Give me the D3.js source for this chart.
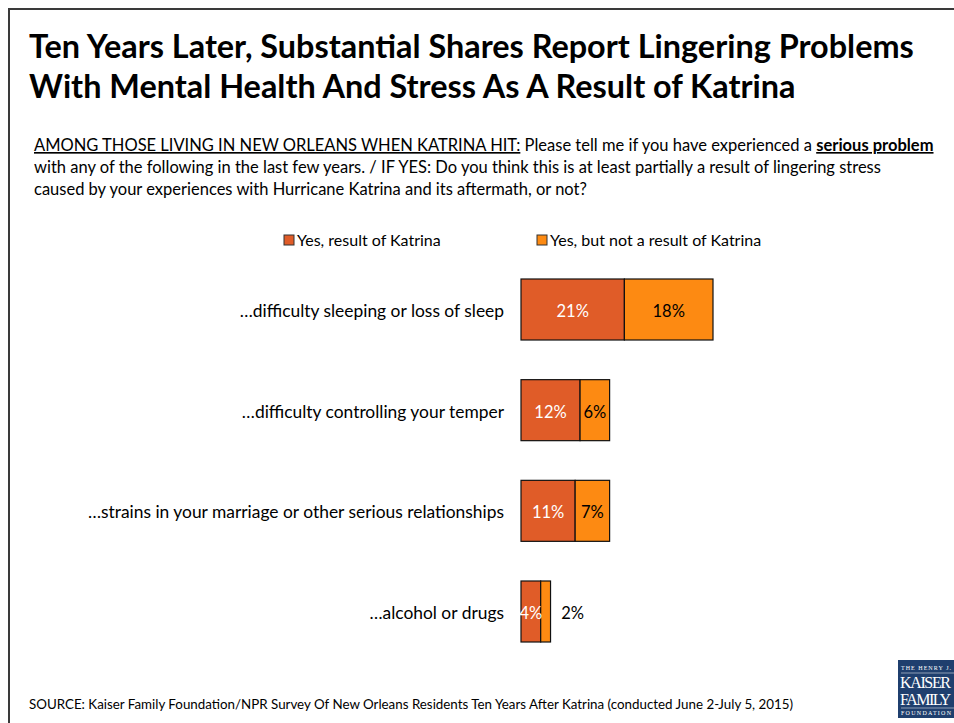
<!DOCTYPE html>
<html>
<head>
<meta charset="utf-8">
<script src="https://cdn.jsdelivr.net/npm/d3@7"></script>
<style>
  html, body { margin: 0; padding: 0; background: #fff; }
  svg { display: block; }
</style>
</head>
<body>
<div id="chart"></div>
<script>
const categories = [
  "…difficulty sleeping or loss of sleep",
  "…difficulty controlling your temper",
  "…strains in your marriage or other serious relationships",
  "…alcohol or drugs"
];
const resultOfKatrina = [21, 12, 11, 4];
const notResultOfKatrina = [18, 6, 7, 2];
const seriesNames = ["Yes, result of Katrina", "Yes, but not a result of Katrina"];
const seriesColors = ["#E05C28", "#FD8A12"];

const width = 954, height = 723;
const font = "Lato, 'Open Sans', sans-serif";

const svg = d3.select("#chart").append("svg")
  .attr("width", width)
  .attr("height", height)
  .attr("font-family", font);

// frame
svg.append("path")
  .attr("d", `M9,${height} V9 H${width}`)
  .attr("fill", "none")
  .attr("stroke", "#3a3a3a")
  .attr("stroke-width", 2);

// title
const title = svg.append("text")
  .attr("font-size", 32.4)
  .attr("font-weight", "bold")
  .attr("fill", "#000");
title.append("tspan").attr("x", 29).attr("y", 58)
  .text("Ten Years Later, Substantial Shares Report Lingering Problems");
title.append("tspan").attr("x", 29).attr("y", 98)
  .text("With Mental Health And Stress As A Result of Katrina");

// question text
const q = svg.append("text").attr("font-size", 16.5).attr("fill", "#000");
const l1 = q.append("tspan").attr("x", 34).attr("y", 151);
l1.append("tspan").attr("text-decoration", "underline")
  .text("AMONG THOSE LIVING IN NEW ORLEANS WHEN KATRINA HIT:");
l1.append("tspan").text(" Please tell me if you have experienced a ");
l1.append("tspan").attr("font-weight", "bold").attr("text-decoration", "underline")
  .text("serious problem");
q.append("tspan").attr("x", 34).attr("y", 173)
  .text("with any of the following in the last few years. / IF YES: Do you think this is at least partially a result of lingering stress");
q.append("tspan").attr("x", 34).attr("y", 195)
  .text("caused by your experiences with Hurricane Katrina and its aftermath, or not?");

// legend
const legendX = [284, 537];
const legend = svg.append("g").selectAll("g")
  .data(seriesNames)
  .join("g")
  .attr("transform", (d, i) => `translate(${legendX[i]},235)`);
legend.append("rect")
  .attr("width", 10).attr("height", 10)
  .attr("fill", (d, i) => seriesColors[i])
  .attr("stroke", "#333").attr("stroke-width", 1);
legend.append("text")
  .attr("x", 13).attr("y", 10.5)
  .attr("font-size", 16)
  .text(d => d);

// scales
const x = d3.scaleLinear().domain([0, 39]).range([521, 713]);
const y = d3.scaleBand().domain(categories).range([279, 642]).paddingInner(0.394).paddingOuter(0);

const stackData = categories.map((c, i) => ({
  category: c,
  a: resultOfKatrina[i],
  b: notResultOfKatrina[i]
}));
const stacked = d3.stack().keys(["a", "b"])(stackData);

const bars = svg.append("g");
stacked.forEach((layer, li) => {
  bars.append("g").selectAll("rect")
    .data(layer)
    .join("rect")
    .attr("x", d => x(d[0]))
    .attr("y", d => y(d.data.category))
    .attr("width", d => x(d[1]) - x(d[0]))
    .attr("height", y.bandwidth())
    .attr("fill", seriesColors[li])
    .attr("stroke", "#111")
    .attr("stroke-width", 1.2);
});

// value labels
stacked.forEach((layer, li) => {
  svg.append("g").selectAll("text")
    .data(layer)
    .join("text")
    .attr("x", d => {
      const w = x(d[1]) - x(d[0]);
      if (li === 1 && w < 20) return x(d[1]) + 22;
      return (x(d[0]) + x(d[1])) / 2;
    })
    .attr("y", d => y(d.data.category) + y.bandwidth() / 2 + 7.5)
    .attr("text-anchor", "middle")
    .attr("font-size", 16.5)
    .attr("fill", li === 0 ? "#fff" : "#000")
    .text(d => `${d[1] - d[0]}%`);
});

// category labels
svg.append("g").selectAll("text")
  .data(categories)
  .join("text")
  .attr("x", 504)
  .attr("y", d => y(d) + y.bandwidth() / 2 + 7.5)
  .attr("text-anchor", "end")
  .attr("font-size", 17.4)
  .text(d => d);

// source
svg.append("text")
  .attr("x", 29).attr("y", 709)
  .attr("font-size", 13.35)
  .text("SOURCE: Kaiser Family Foundation/NPR Survey Of New Orleans Residents Ten Years After Katrina (conducted June 2-July 5, 2015)");

// logo
const logo = svg.append("g").attr("transform", "translate(898,660)");
logo.append("rect").attr("width", 56).attr("height", 58).attr("fill", "#1f3f6e");
const lt = logo.append("text").attr("fill", "#fff").attr("font-family", "'Liberation Serif', serif");
lt.append("tspan").attr("x", 3).attr("y", 10).attr("font-size", 6).attr("textLength", 50).text("THE HENRY J.");
lt.append("tspan").attr("x", 2).attr("y", 28).attr("font-size", 16).attr("textLength", 51).text("KAISER");
lt.append("tspan").attr("x", 2).attr("y", 45).attr("font-size", 16).attr("textLength", 51).text("FAMILY");
lt.append("tspan").attr("x", 3).attr("y", 55).attr("font-size", 6).attr("textLength", 50).text("FOUNDATION");
logo.append("line").attr("x1", 3).attr("x2", 56).attr("y1", 13).attr("y2", 13).attr("stroke", "#fff").attr("stroke-width", 0.5);
logo.append("line").attr("x1", 3).attr("x2", 56).attr("y1", 48).attr("y2", 48).attr("stroke", "#fff").attr("stroke-width", 0.5);
</script>
</body>
</html>
